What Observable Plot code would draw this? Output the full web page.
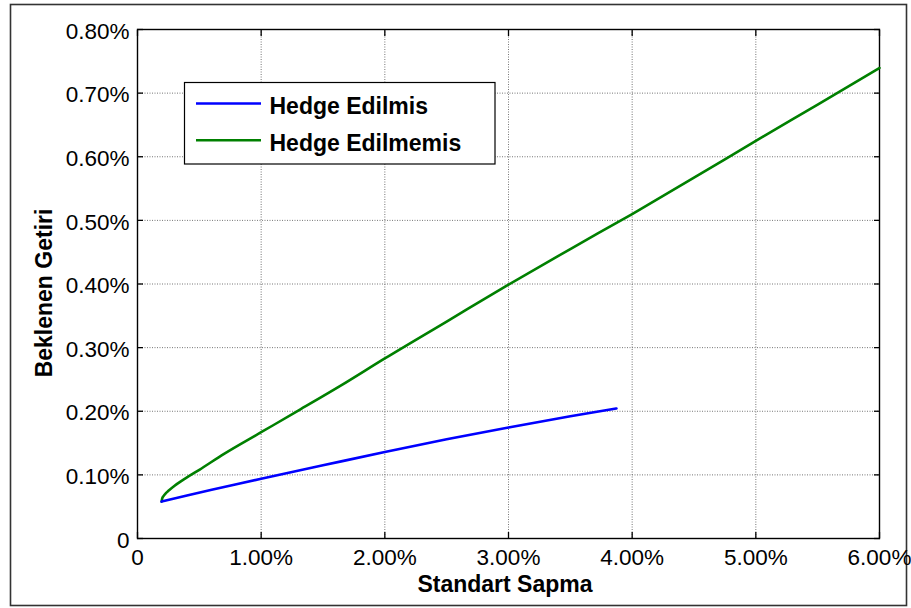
<!DOCTYPE html>
<html>
<head>
<meta charset="utf-8">
<script src="https://cdn.jsdelivr.net/npm/d3@7"></script>
<script src="https://cdn.jsdelivr.net/npm/@observablehq/plot@0.6"></script>
<style>
  html, body { margin: 0; padding: 0; background: white; }
  #chart { position: relative; width: 911px; height: 608px; }
</style>
</head>
<body>
<div id="chart"></div>
<script>
// ---- data (percent units) ----
const seriesNames = ["Hedge Edilmis", "Hedge Edilmemis"];
const seriesColors = ["#0000ff", "#008000"];

const sdHedged  = [0.195, 0.40, 0.60, 0.80, 1.00, 1.50, 2.00, 2.50, 3.00, 3.50, 3.873];
const retHedged = [0.058, 0.0675, 0.0765, 0.0853, 0.094, 0.115, 0.136, 0.156, 0.1745, 0.192, 0.2044];

const sdUnhedged  = [0.195, 0.20, 0.21, 0.23, 0.25, 0.30, 0.40, 0.50, 0.70, 1.00, 1.30, 1.65, 2.00, 2.50, 3.00, 3.50, 4.00, 4.50, 5.00, 5.50, 6.00];
const retUnhedged = [0.058, 0.063, 0.0665, 0.0715, 0.075, 0.083, 0.096, 0.108, 0.133, 0.167, 0.201, 0.241, 0.283, 0.341, 0.399, 0.455, 0.510, 0.567, 0.625, 0.682, 0.7395];

const xTicks = [0, 1, 2, 3, 4, 5, 6];
const xTickLabels = ["0", "1.00%", "2.00%", "3.00%", "4.00%", "5.00%", "6.00%"];
const yTicks = [0, 0.1, 0.2, 0.3, 0.4, 0.5, 0.6, 0.7, 0.8];
const yTickLabels = ["0", "0.10%", "0.20%", "0.30%", "0.40%", "0.50%", "0.60%", "0.70%", "0.80%"];

const xTitle = "Standart Sapma";
const yTitle = "Beklenen Getiri";

// ---- build ----
const hedged = sdHedged.map((x, i) => ({x, y: retHedged[i]}));
const unhedged = sdUnhedged.map((x, i) => ({x, y: retUnhedged[i]}));
const xFmt = v => xTickLabels[xTicks.indexOf(v)];
const yFmt = v => yTickLabels[yTicks.findIndex(t => Math.abs(t - v) < 1e-9)];
const empty = () => "";

const FONT = "'Liberation Sans', Arial, Helvetica, sans-serif";

const plot = Plot.plot({
  width: 911,
  height: 608,
  marginLeft: 137,
  marginRight: 32,
  marginTop: 29,
  marginBottom: 70,
  style: {fontFamily: FONT, fontSize: "22.5px", color: "black", background: "white"},
  x: {domain: [0, 6]},
  y: {domain: [0, 0.8]},
  marks: [
    Plot.gridX(xTicks, {stroke: "#666", strokeOpacity: 0.9, strokeDasharray: "1,1.5", strokeWidth: 1}),
    Plot.gridY(yTicks, {stroke: "#666", strokeOpacity: 0.9, strokeDasharray: "1,1.5", strokeWidth: 1}),
    Plot.axisX(xTicks, {anchor: "bottom", tickSize: -6, tickFormat: empty, label: null, strokeWidth: 1.3}),
    Plot.axisX(xTicks, {anchor: "top", tickSize: -6, tickFormat: empty, label: null, strokeWidth: 1.3}),
    Plot.axisY(yTicks, {anchor: "left", tickSize: -6, tickFormat: empty, label: null, strokeWidth: 1.3}),
    Plot.axisY(yTicks, {anchor: "right", tickSize: -6, tickFormat: empty, label: null, strokeWidth: 1.3}),
    Plot.axisX(xTicks, {anchor: "bottom", tickSize: 0, tickPadding: 11, tickFormat: xFmt, label: null, fill: "black"}),
    Plot.axisY(yTicks, {anchor: "left", tickSize: 0, tickPadding: 8, tickFormat: yFmt, label: null, fill: "black", dy: 2}),
    Plot.frame({stroke: "black", strokeWidth: 1.4}),
    Plot.line(unhedged, {x: "x", y: "y", stroke: seriesColors[1], strokeWidth: 2.6, curve: "monotone-x"}),
    Plot.line(hedged, {x: "x", y: "y", stroke: seriesColors[0], strokeWidth: 2.6, curve: "monotone-x"})
  ]
});

const svg = d3.select(plot);

// outer figure border
svg.insert("rect", ":first-child")
  .attr("x", 10.5).attr("y", 4.5).attr("width", 896).attr("height", 601)
  .attr("fill", "none").attr("stroke", "#333").attr("stroke-width", 1.6);

// axis titles
svg.append("text")
  .attr("x", 505).attr("y", 592)
  .attr("text-anchor", "middle")
  .attr("font-family", FONT).attr("font-size", 23).attr("font-weight", "bold")
  .attr("fill", "black")
  .text(xTitle);

svg.append("text")
  .attr("transform", "translate(51.5,293) rotate(-90)")
  .attr("text-anchor", "middle")
  .attr("font-family", FONT).attr("font-size", 23).attr("font-weight", "bold")
  .attr("fill", "black")
  .text(yTitle);

// legend
const lg = svg.append("g");
lg.append("rect")
  .attr("x", 184.5).attr("y", 82.5).attr("width", 310.5).attr("height", 81.5)
  .attr("fill", "white").attr("stroke", "black").attr("stroke-width", 1.2);
seriesNames.forEach((name, i) => {
  const cy = 103.5 + i * 36.7;
  lg.append("line")
    .attr("x1", 196).attr("x2", 261).attr("y1", cy).attr("y2", cy)
    .attr("stroke", seriesColors[i]).attr("stroke-width", 2.6);
  lg.append("text")
    .attr("x", 269.5).attr("y", cy + 10.8)
    .attr("text-anchor", "start")
    .attr("font-family", FONT).attr("font-size", 23).attr("font-weight", "bold")
    .attr("fill", "black")
    .text(name);
});

document.getElementById("chart").appendChild(plot);
</script>
</body>
</html>
